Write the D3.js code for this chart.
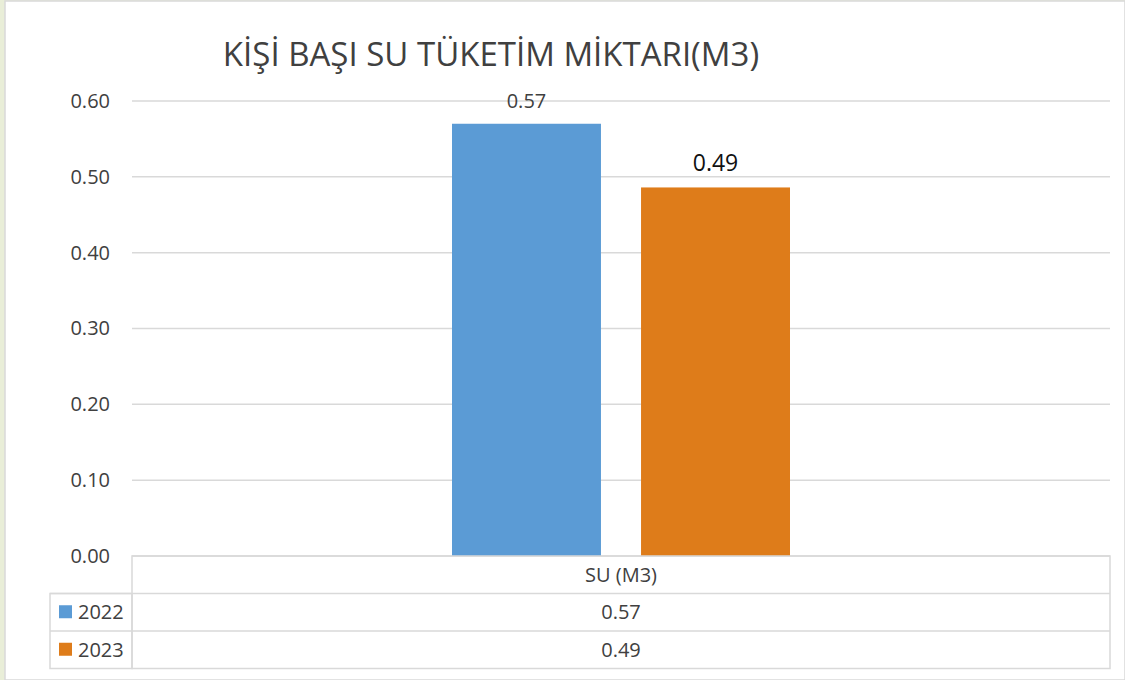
<!DOCTYPE html>
<html>
<head>
<meta charset="utf-8">
<script src="https://cdn.jsdelivr.net/npm/d3@7"></script>
<style>
  body { margin: 0; background: #e9eed8; }
  svg { display: block; font-family: "Open Sans", "Noto Sans", sans-serif; }
</style>
</head>
<body>
<svg id="chart" width="1125" height="680"></svg>
<script>
// veriler
const kategoriler = ['SU (M3)'];
const yillar = ['2022', '2023'];
const degerler2022 = [0.57];
const degerler2023 = [0.486];
const renkler = ['#5b9bd5', '#de7c1a'];
const yTikler = [0, 0.1, 0.2, 0.3, 0.4, 0.5, 0.6];

const seriler = [degerler2022, degerler2023];
const fmt = d3.format('.2f');

const svg = d3.select('#chart');

// arka plan paneli
svg.append('rect').attr('x', 5).attr('y', 1).attr('width', 1120).attr('height', 679)
  .attr('fill', '#fff').attr('stroke', '#d9d9d9').attr('stroke-width', 1.5);

const sol = 132, sag = 1110, ust = 101, alt = 556;

const x = d3.scaleBand().domain(kategoriler).range([sol, sag]);
const xi = d3.scaleBand().domain(yillar).range([0, 338]).paddingInner(0.212);
const y = d3.scaleLinear().domain([0, 0.6]).range([alt, ust]);

// başlık
svg.append('text').attr('x', 491).attr('y', 66).attr('text-anchor', 'middle')
  .attr('font-size', 33).attr('fill', '#404040')
  .text('KİŞİ BAŞI SU TÜKETİM MİKTARI(M3)');

// ızgara çizgileri
svg.append('g').selectAll('line').data(yTikler).join('line')
  .attr('x1', sol).attr('x2', sag)
  .attr('y1', d => y(d)).attr('y2', d => y(d))
  .attr('stroke', '#d9d9d9').attr('stroke-width', 1.5);

// y ekseni
const yEkseni = svg.append('g').attr('transform', `translate(${sol - 22},0)`)
  .call(d3.axisLeft(y).tickValues(yTikler).tickFormat(fmt).tickSize(0).tickPadding(0));
yEkseni.select('.domain').remove();
yEkseni.selectAll('text').attr('font-size', 20).attr('fill', '#404040')
  .attr('font-family', '"Open Sans", sans-serif');

// çubuklar
kategoriler.forEach((k, i) => {
  const baslangic = x(k) + (x.bandwidth() - 338) / 2;
  seriler.forEach((s, j) => {
    svg.append('rect')
      .attr('x', baslangic + xi(yillar[j]))
      .attr('y', y(s[i]))
      .attr('width', xi.bandwidth())
      .attr('height', alt - y(s[i]))
      .attr('fill', renkler[j]);
  });
  // veri etiketleri
  svg.append('text').attr('x', baslangic + xi(yillar[0]) + xi.bandwidth() / 2)
    .attr('y', y(seriler[0][i]) - 16).attr('text-anchor', 'middle')
    .attr('font-size', 20).attr('fill', '#404040').text(fmt(seriler[0][i]));
  svg.append('text').attr('x', baslangic + xi(yillar[1]) + xi.bandwidth() / 2)
    .attr('y', y(seriler[1][i]) - 16).attr('text-anchor', 'middle')
    .attr('font-size', 23).attr('fill', '#111').text(fmt(seriler[1][i]));
});

// veri tablosu
const satirH = 37.5;
const tablo = svg.append('g').attr('stroke', '#d9d9d9').attr('stroke-width', 1.5).attr('fill', 'none');
tablo.append('rect').attr('x', sol).attr('y', alt).attr('width', sag - sol).attr('height', satirH * 3);
tablo.append('rect').attr('x', 50).attr('y', alt + satirH).attr('width', sol - 50).attr('height', satirH * 2);
tablo.selectAll('.satir').data([1, 2]).join('line')
  .attr('x1', 50).attr('x2', sag)
  .attr('y1', d => alt + satirH * d).attr('y2', d => alt + satirH * d);

kategoriler.forEach(k => {
  svg.append('text').attr('x', x(k) + x.bandwidth() / 2).attr('y', alt + satirH / 2 + 7)
    .attr('text-anchor', 'middle').attr('font-size', 20).attr('fill', '#404040').text(k);
});

yillar.forEach((yil, j) => {
  const cy = alt + satirH * (j + 1) + satirH / 2;
  svg.append('rect').attr('x', 59).attr('y', cy - 7).attr('width', 13).attr('height', 13)
    .attr('fill', renkler[j]);
  svg.append('text').attr('x', 78).attr('y', cy + 7).attr('font-size', 20)
    .attr('fill', '#404040').text(yil);
  kategoriler.forEach((k, i) => {
    svg.append('text').attr('x', x(k) + x.bandwidth() / 2).attr('y', cy + 7)
      .attr('text-anchor', 'middle').attr('font-size', 20).attr('fill', '#404040')
      .text(fmt(seriler[j][i]));
  });
});
</script>
</body>
</html>
